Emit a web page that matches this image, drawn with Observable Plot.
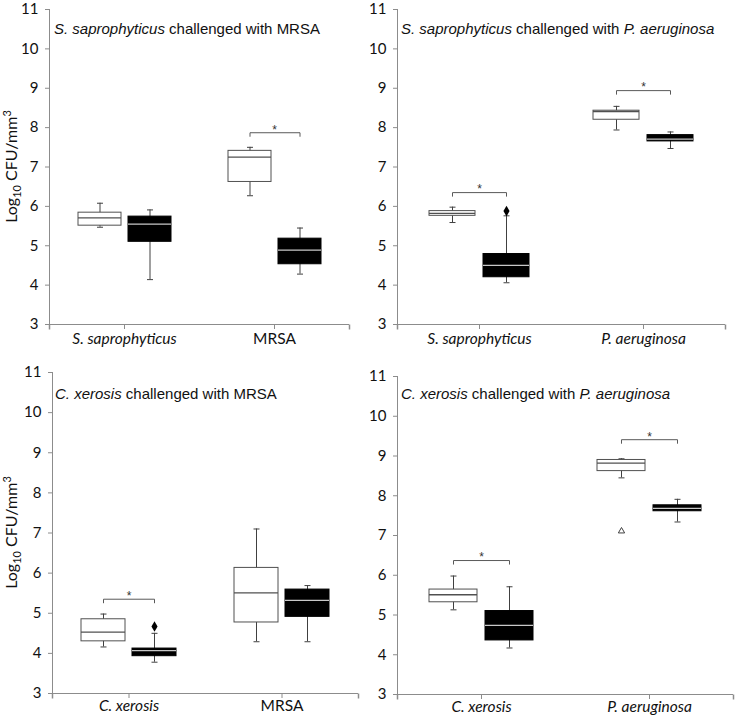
<!DOCTYPE html>
<html>
<head>
<meta charset="utf-8">
<script src="https://cdn.jsdelivr.net/npm/d3@7"></script>
<script src="https://cdn.jsdelivr.net/npm/@observablehq/plot@0.6"></script>
<style>
  body { margin: 0; background: #fff; }
  #wrap { position: relative; width: 735px; height: 716px; overflow: hidden; }
  .panel { position: absolute; }
  .panel svg { overflow: visible; }
</style>
</head>
<body>
<div id="wrap"></div>
<script>
// ---------------- DATA ----------------
// box statistics per category: [whisker low, Q1, median, Q3, whisker high]
const groups = ["open", "filled"];
const yTicks = [3, 4, 5, 6, 7, 8, 9, 10, 11];
const yLabelParts = [["Log", ""], ["10", "sub"], [" CFU/mm", ""], ["3", "sup"]];
const italicNames = ["S. saprophyticus", "C. xerosis", "P. aeruginosa"];

const p1Title = [["S. saprophyticus", true], [" challenged with MRSA", false]];
const p1Categories = ["S. saprophyticus", "MRSA"];
const p1Open = [[5.47, 5.51, 5.71, 5.84, 6.08], [6.27, 6.62, 7.25, 7.41, 7.50]];
const p1Filled = [[4.14, 5.10, 5.55, 5.74, 5.91], [4.28, 4.53, 4.89, 5.18, 5.45]];
const p1Sig = [null, 7.87];
const p1Outliers = [];

const p2Title = [["S. saprophyticus", true], [" challenged with ", false], ["P. aeruginosa", true]];
const p2Categories = ["S. saprophyticus", "P. aeruginosa"];
const p2Open = [[5.59, 5.76, 5.82, 5.88, 5.98], [7.94, 8.20, 8.41, 8.43, 8.54]];
const p2Filled = [[4.06, 4.20, 4.50, 4.79, 5.76], [7.47, 7.65, 7.71, 7.81, 7.89]];
const p2Sig = [6.35, 8.94];
const p2Outliers = [["S. saprophyticus", "filled", 5.88]];

const p3Title = [["C. xerosis", true], [" challenged with MRSA", false]];
const p3Categories = ["C. xerosis", "MRSA"];
const p3Open = [[4.16, 4.30, 4.53, 4.85, 4.98], [4.29, 4.77, 5.51, 6.13, 7.10]];
const p3Filled = [[3.78, 3.93, 4.07, 4.12, 4.50], [4.29, 4.91, 5.32, 5.59, 5.69]];
const p3Sig = [5.35, null];
const p3Outliers = [["C. xerosis", "filled", 4.67]];

const p4Title = [["C. xerosis", true], [" challenged with ", false], ["P. aeruginosa", true]];
const p4Categories = ["C. xerosis", "P. aeruginosa"];
const p4Open = [[5.13, 5.32, 5.51, 5.64, 5.98], [8.45, 8.62, 8.82, 8.90, 8.93]];
const p4Filled = [[4.17, 4.36, 4.74, 5.10, 5.71], [7.34, 7.61, 7.68, 7.76, 7.91]];
const p4Sig = [6.37, 9.41];
const p4Outliers = [["P. aeruginosa", "open", 7.11]];

// ---------------- LAYOUT / STYLE ----------------
const panels = [
  {title: p1Title, cats: p1Categories, open: p1Open, filled: p1Filled, sig: p1Sig, outliers: p1Outliers, outlierSymbol: "diamond",
   left: 0, top: 0, width: 367, height: 355, mt: 9, mb: 31, ml: 49, mr: 18, tx: 54, ty: 34, ylabel: true, pad: 3},
  {title: p2Title, cats: p2Categories, open: p2Open, filled: p2Filled, sig: p2Sig, outliers: p2Outliers, outlierSymbol: "diamond",
   left: 367, top: 0, width: 368, height: 355, mt: 9, mb: 31, ml: 29, mr: 10, tx: 34, ty: 34, ylabel: false, pad: 3},
  {title: p3Title, cats: p3Categories, open: p3Open, filled: p3Filled, sig: p3Sig, outliers: p3Outliers, outlierSymbol: "diamond",
   left: 0, top: 358, width: 367, height: 358, mt: 14, mb: 23, ml: 52, mr: 9, tx: 55, ty: 41, ylabel: true, pad: 1},
  {title: p4Title, cats: p4Categories, open: p4Open, filled: p4Filled, sig: p4Sig, outliers: p4Outliers, outlierSymbol: "triangle2",
   left: 367, top: 358, width: 368, height: 358, mt: 18, mb: 22, ml: 29, mr: 2, tx: 34, ty: 41, ylabel: false, pad: 1}
];

const AXIS = "#8c8c8c";
const capSymbol = {draw(ctx) { ctx.moveTo(-3, 0); ctx.lineTo(3, 0); }};
const tickDownSymbol = {draw(ctx) { ctx.moveTo(0, 0); ctx.lineTo(0, 4); }};
const axisEndTick = {draw(ctx) { ctx.moveTo(0, 0); ctx.lineTo(0, 5); }};

function rowsFor(cats, stats, group) {
  return cats.map((cat, i) => ({cat, group, low: stats[i][0], q1: stats[i][1], med: stats[i][2], q3: stats[i][3], high: stats[i][4]}));
}

const wrap = document.getElementById("wrap");

for (const p of panels) {
  const openRows = rowsFor(p.cats, p.open, "open");
  const filledRows = rowsFor(p.cats, p.filled, "filled");
  const rows = openRows.concat(filledRows);
  const sigRows = p.cats.map((cat, i) => ({cat, y: p.sig[i]})).filter(d => d.y != null);
  const outRows = p.outliers.map(([cat, group, value]) => ({cat, group, value}));
  const italicCats = p.cats.filter(c => italicNames.includes(c));
  const uprightCats = p.cats.filter(c => !italicNames.includes(c));

  const svg = Plot.plot({
    width: p.width,
    height: p.height,
    marginTop: p.mt,
    marginBottom: p.mb,
    marginLeft: p.ml,
    marginRight: p.mr,
    style: {fontFamily: "Lato, 'Open Sans', sans-serif", fontSize: "15px", background: "transparent", color: "#111"},
    fx: {domain: p.cats, padding: 0, label: null},
    x: {domain: groups, paddingInner: 0.14, paddingOuter: 0.57, axis: null},
    y: {domain: [3, 11], axis: null},
    marks: [
      Plot.frame({anchor: "left", stroke: AXIS, facetAnchor: "left"}),
      Plot.ruleY([3], {stroke: AXIS}),
      Plot.dot([0], {frameAnchor: "bottom-left", facetAnchor: "left", symbol: axisEndTick, fill: "none", stroke: AXIS}),
      Plot.dot([0], {frameAnchor: "bottom-right", facetAnchor: "right", symbol: axisEndTick, fill: "none", stroke: AXIS}),
      Plot.axisY({ticks: yTicks, tickSize: 4, tickPadding: 7, stroke: AXIS, fill: "#111", tickFormat: d => String(d), label: null, fontSize: 15}),
      italicCats.length ? Plot.axisFx({ticks: italicCats, anchor: "bottom", tickSize: 5, tickPadding: p.pad, stroke: AXIS, fill: "#111", fontStyle: "italic", label: null, fontSize: 15.5}) : null,
      uprightCats.length ? Plot.axisFx({ticks: uprightCats, anchor: "bottom", tickSize: 5, tickPadding: p.pad, stroke: AXIS, fill: "#111", label: null, fontSize: 15.5}) : null,
      // whiskers
      Plot.ruleX(rows, {fx: "cat", x: "group", y1: "low", y2: "high", stroke: "#404040", strokeWidth: 1}),
      Plot.dot(rows, {fx: "cat", x: "group", y: "low", symbol: capSymbol, fill: "none", stroke: "#404040", strokeWidth: 1}),
      Plot.dot(rows, {fx: "cat", x: "group", y: "high", symbol: capSymbol, fill: "none", stroke: "#404040", strokeWidth: 1}),
      // boxes
      Plot.barY(openRows, {fx: "cat", x: "group", y1: "q1", y2: "q3", fill: "white", stroke: "#505050", strokeWidth: 1}),
      Plot.barY(filledRows, {fx: "cat", x: "group", y1: "q1", y2: "q3", fill: "black", stroke: "#000", strokeWidth: 1}),
      // medians
      Plot.tickY(openRows, {fx: "cat", x: "group", y: "med", stroke: "#505050", strokeWidth: 1.3}),
      Plot.tickY(filledRows, {fx: "cat", x: "group", y: "med", stroke: "#c8c8c8", strokeWidth: 1.3}),
      // outliers
      Plot.dot(outRows, {fx: "cat", x: "group", y: "value", symbol: p.outlierSymbol, r: p.outlierSymbol === "diamond" ? 3.2 : 3,
        fill: p.outlierSymbol === "diamond" ? "black" : "none", stroke: p.outlierSymbol === "diamond" ? "none" : "#404040", strokeWidth: 1}),
      // significance brackets
      Plot.link(sigRows, {fx: "cat", x1: () => "open", x2: () => "filled", y1: "y", y2: "y", stroke: "#595959", strokeWidth: 1}),
      Plot.dot(sigRows, {fx: "cat", x: () => "open", y: "y", symbol: tickDownSymbol, fill: "none", stroke: "#595959", strokeWidth: 1}),
      Plot.dot(sigRows, {fx: "cat", x: () => "filled", y: "y", symbol: tickDownSymbol, fill: "none", stroke: "#595959", strokeWidth: 1}),
      Plot.text(sigRows, {fx: "cat", y: "y", text: () => "*", dy: -3, fontSize: 12, fill: "#333", fontFamily: "Liberation Sans, Arial, sans-serif"})
    ].filter(Boolean)
  });

  const s = d3.select(svg);
  // panel title with italic species names
  const title = s.append("text")
    .attr("x", p.tx).attr("y", p.ty)
    .attr("text-anchor", "start")
    .attr("font-family", "'Liberation Sans', Arial, sans-serif")
    .attr("font-size", 15)
    .attr("fill", "#111");
  for (const [txt, it] of p.title) {
    title.append("tspan").attr("font-style", it ? "italic" : "normal").text(txt);
  }
  // y axis label
  if (p.ylabel) {
    const cy = (p.mt + (p.height - p.mb)) / 2;
    const lab = s.append("text")
      .attr("transform", `translate(17,${cy}) rotate(-90)`)
      .attr("text-anchor", "middle")
      .attr("font-family", "Lato, 'Open Sans', sans-serif")
      .attr("font-size", 16)
      .attr("fill", "#111");
    let shift = 0;
    for (const [txt, kind] of yLabelParts) {
      const target = kind === "sub" ? 4 : kind === "sup" ? -6 : 0;
      const ts = lab.append("tspan").text(txt).attr("dy", target - shift);
      if (kind) ts.attr("font-size", 11);
      shift = target;
    }
  }

  const div = document.createElement("div");
  div.className = "panel";
  div.style.left = p.left + "px";
  div.style.top = p.top + "px";
  div.appendChild(svg);
  wrap.appendChild(div);
}
</script>
</body>
</html>
